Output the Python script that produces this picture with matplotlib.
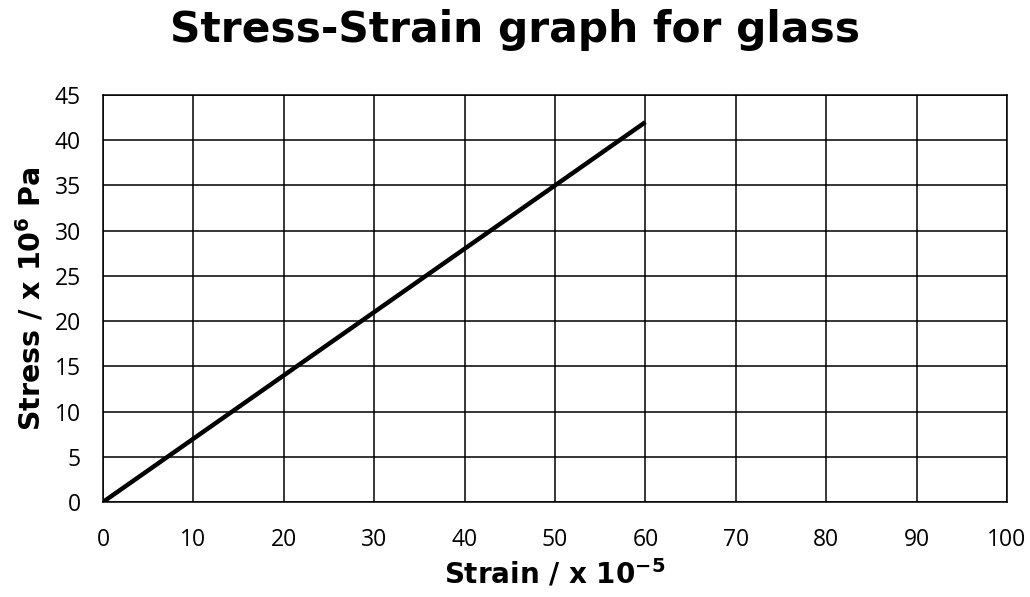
import matplotlib
matplotlib.use("Agg")
import matplotlib.pyplot as plt

plt.rcParams['mathtext.fontset'] = 'dejavusans'
plt.rcParams['mathtext.default'] = 'bf'

strain = [0, 60]
stress = [0, 42]
x_ticks = list(range(0, 101, 10))
y_ticks = list(range(0, 46, 5))

fig = plt.figure(figsize=(10.3, 5.97), dpi=100)
ax = fig.add_axes([0.1, 0.1591, 0.8777, 0.6818])
ax.plot(strain, stress, color="black", linewidth=3.2, solid_capstyle="butt")
ax.set_xlim(0, 100)
ax.set_ylim(0, 45)
ax.set_xticks(x_ticks)
ax.set_yticks(y_ticks)
ax.grid(True, color="black", linewidth=1.1)
ax.set_axisbelow(True)
for s in ax.spines.values():
    s.set_linewidth(1.1)
ax.tick_params(length=0, labelsize=16.5)
ax.tick_params(axis="x", pad=19)
ax.tick_params(axis="y", pad=16)
for lab in ax.get_xticklabels() + ax.get_yticklabels():
    lab.set_family("Open Sans")
ax.set_xlabel("Strain / x 10$^{-5}$", fontsize=20, fontweight="bold", family="DejaVu Sans", labelpad=4)
ax.set_ylabel("Stress / x 10$^{6}$ Pa", fontsize=20.5, fontweight="bold", family="DejaVu Sans", labelpad=6)
fig.suptitle("Stress-Strain graph for glass", fontsize=30.5, fontweight="bold", family="DejaVu Sans", y=0.985)
fig.savefig("out.png", dpi=100)
